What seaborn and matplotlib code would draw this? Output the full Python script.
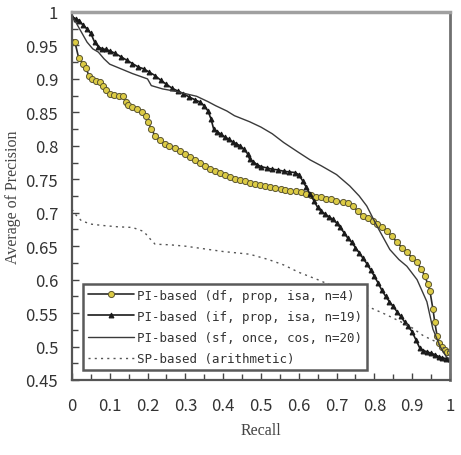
import numpy as np
import pandas as pd
import matplotlib
matplotlib.use('Agg')
import matplotlib.pyplot as plt
from matplotlib.ticker import MultipleLocator, FuncFormatter
import seaborn as sns

# PI-based (df, prop, isa, n=4)  -- circles
df_x = [0.000, 0.008, 0.018, 0.030, 0.037, 0.045, 0.052, 0.065, 0.075, 0.082,
        0.090, 0.100, 0.112, 0.125, 0.135, 0.142, 0.148, 0.160, 0.172, 0.185,
        0.195, 0.202, 0.210, 0.220, 0.232, 0.245, 0.258, 0.272, 0.285, 0.298,
        0.312, 0.325, 0.338, 0.352, 0.365, 0.378, 0.392, 0.405, 0.418, 0.432,
        0.445, 0.458, 0.472, 0.485, 0.498, 0.512, 0.525, 0.538, 0.552, 0.565,
        0.578, 0.592, 0.605, 0.618, 0.632, 0.645, 0.658, 0.672, 0.685, 0.698,
        0.717, 0.730, 0.743, 0.757, 0.770, 0.783, 0.796, 0.808, 0.820, 0.833,
        0.846, 0.860, 0.873, 0.886, 0.900, 0.913, 0.924, 0.934, 0.941, 0.947,
        0.955, 0.960, 0.966, 0.972, 0.979, 0.987, 0.993, 1.000]
df_y = [0.955, 0.955, 0.931, 0.922, 0.916, 0.905, 0.900, 0.897, 0.895, 0.889,
        0.884, 0.878, 0.876, 0.875, 0.874, 0.866, 0.861, 0.858, 0.855, 0.850,
        0.845, 0.835, 0.825, 0.815, 0.808, 0.803, 0.800, 0.797, 0.792, 0.788,
        0.784, 0.779, 0.775, 0.770, 0.766, 0.763, 0.760, 0.756, 0.753, 0.751,
        0.749, 0.747, 0.745, 0.743, 0.742, 0.740, 0.739, 0.737, 0.735, 0.734,
        0.733, 0.732, 0.731, 0.728, 0.726, 0.724, 0.723, 0.721, 0.720, 0.718,
        0.716, 0.714, 0.710, 0.702, 0.695, 0.692, 0.688, 0.683, 0.678, 0.673,
        0.665, 0.656, 0.648, 0.641, 0.633, 0.626, 0.616, 0.605, 0.594, 0.583,
        0.556, 0.536, 0.516, 0.506, 0.500, 0.495, 0.492, 0.492]

# PI-based (if, prop, isa, n=19)  -- triangles
if_x = [0.000, 0.010, 0.020, 0.030, 0.040, 0.050, 0.060, 0.070, 0.080, 0.090,
        0.100, 0.115, 0.130, 0.145, 0.160, 0.175, 0.190, 0.205, 0.220, 0.235,
        0.250, 0.265, 0.280, 0.295, 0.310, 0.325, 0.340, 0.350, 0.360, 0.368,
        0.375, 0.385, 0.395, 0.405, 0.415, 0.425, 0.435, 0.445, 0.455, 0.465,
        0.470, 0.480, 0.490, 0.500, 0.515, 0.530, 0.545, 0.560, 0.575, 0.590,
        0.600, 0.610, 0.620, 0.630, 0.640, 0.650, 0.660, 0.670, 0.680, 0.690,
        0.700, 0.710, 0.720, 0.730, 0.740, 0.750, 0.760, 0.770, 0.780, 0.790,
        0.800, 0.810, 0.820, 0.830, 0.840, 0.850, 0.860, 0.870, 0.880, 0.890,
        0.900, 0.910, 0.920, 0.930, 0.940, 0.950, 0.960, 0.970, 0.980, 0.990, 1.000]
if_y = [0.993, 0.990, 0.987, 0.980, 0.975, 0.968, 0.955, 0.948, 0.945, 0.944,
        0.942, 0.938, 0.933, 0.928, 0.923, 0.918, 0.915, 0.910, 0.905, 0.898,
        0.892, 0.886, 0.882, 0.878, 0.873, 0.869, 0.865, 0.860, 0.852, 0.840,
        0.825, 0.821, 0.817, 0.813, 0.810, 0.806, 0.803, 0.800, 0.795, 0.788,
        0.780, 0.776, 0.772, 0.769, 0.767, 0.765, 0.764, 0.762, 0.761, 0.760,
        0.757, 0.748, 0.738, 0.728, 0.718, 0.708, 0.702, 0.698, 0.694, 0.690,
        0.685, 0.678, 0.670, 0.662, 0.656, 0.648, 0.640, 0.632, 0.624, 0.615,
        0.605, 0.595, 0.584, 0.575, 0.567, 0.560, 0.552, 0.545, 0.537, 0.530,
        0.522, 0.510, 0.498, 0.494, 0.492, 0.490, 0.488, 0.485, 0.483, 0.482, 0.481]

# PI-based (sf, once, cos, n=20)  -- thin line
sf_x = [0.000, 0.010, 0.020, 0.030, 0.040, 0.055, 0.070, 0.085, 0.100, 0.130,
        0.160, 0.200, 0.210, 0.240, 0.270, 0.300, 0.330, 0.360, 0.380, 0.410,
        0.430, 0.470, 0.500, 0.530, 0.560, 0.600, 0.630, 0.660, 0.700, 0.735,
        0.760, 0.780, 0.807, 0.841, 0.865, 0.886, 0.913, 0.939, 0.955, 0.974,
        0.990, 1.000]
sf_y = [0.993, 0.985, 0.975, 0.965, 0.955, 0.945, 0.940, 0.930, 0.922, 0.915,
        0.908, 0.900, 0.890, 0.885, 0.882, 0.878, 0.874, 0.866, 0.860, 0.852,
        0.845, 0.836, 0.828, 0.818, 0.805, 0.790, 0.779, 0.770, 0.757, 0.740,
        0.725, 0.710, 0.680, 0.645, 0.630, 0.620, 0.600, 0.567, 0.526, 0.500,
        0.485, 0.481]

# SP-based (arithmetic)  -- dotted
sp_x = [0.000, 0.010, 0.025, 0.050, 0.080, 0.120, 0.160, 0.190, 0.205, 0.220,
        0.260, 0.300, 0.350, 0.400, 0.470, 0.520, 0.560, 0.600, 0.650, 0.700,
        0.750, 0.790, 0.830, 0.870, 0.900, 0.930, 0.960, 0.990, 1.000]
sp_y = [0.705, 0.697, 0.688, 0.683, 0.681, 0.679, 0.678, 0.672, 0.662, 0.653,
        0.652, 0.650, 0.646, 0.642, 0.638, 0.630, 0.622, 0.611, 0.600, 0.588,
        0.572, 0.558, 0.548, 0.537, 0.528, 0.516, 0.508, 0.495, 0.492]

labels = ['PI-based (df, prop, isa, n=4)',
          'PI-based (if, prop, isa, n=19)',
          'PI-based (sf, once, cos, n=20)',
          'SP-based (arithmetic)']

sns.set_style('white')
plt.rcParams['font.family'] = ['Noto Sans CJK JP', 'DejaVu Sans']

fig = plt.figure(figsize=(4.61, 4.56), dpi=100)
ax = fig.add_axes([0.156, 0.1645, 0.82, 0.807])

sns.lineplot(x=df_x, y=df_y, ax=ax, color='#2a2a2a', lw=1.2, marker='o',
             markersize=4.4, markerfacecolor='#dccb45', markeredgecolor='#5a5530',
             markeredgewidth=0.7, estimator=None, sort=False, label=labels[0])
sns.lineplot(x=if_x, y=if_y, ax=ax, color='#1a1a1a', lw=1.2, marker='^',
             markersize=3.5, markerfacecolor='#1a1a1a', markeredgecolor='#1a1a1a',
             estimator=None, sort=False, label=labels[1])
sns.lineplot(x=sf_x, y=sf_y, ax=ax, color='#3a3a3a', lw=1.0,
             estimator=None, sort=False, label=labels[2])
sns.lineplot(x=sp_x, y=sp_y, ax=ax, color='#555555', lw=1.0, linestyle=(0, (1.5, 3)),
             estimator=None, sort=False, label=labels[3])

ax.set_xlim(0, 1)
ax.set_ylim(0.45, 1)
ax.xaxis.set_major_locator(MultipleLocator(0.1))
ax.xaxis.set_minor_locator(MultipleLocator(0.05))
ax.yaxis.set_major_locator(MultipleLocator(0.05))
ax.yaxis.set_minor_locator(MultipleLocator(0.025))
fmt = FuncFormatter(lambda v, p: f'{round(v, 3):g}')
ax.xaxis.set_major_formatter(fmt)
ax.yaxis.set_major_formatter(fmt)
ax.tick_params(axis='both', which='both', direction='in', colors='#444444',
               labelcolor='#333333', labelsize=12)
ax.tick_params(axis='both', which='major', length=5, width=1)
ax.tick_params(axis='both', which='minor', length=4, width=1)
ax.tick_params(axis='x', which='both', pad=12, bottom=True)
ax.tick_params(axis='y', which='both', pad=10, left=True)

for side in ['left', 'bottom']:
    ax.spines[side].set_color('#555555')
    ax.spines[side].set_linewidth(1.6)
ax.spines['top'].set_color('#a0a0a0')
ax.spines['top'].set_linewidth(2.5)
ax.spines['right'].set_color('#707070')
ax.spines['right'].set_linewidth(2.0)

ax.set_xlabel('Recall', family='Liberation Serif', fontsize=11.5, color='#444444', labelpad=6)
ax.set_ylabel('Average of Precision', family='Liberation Serif', fontsize=11.5,
              color='#444444', labelpad=3)

leg = ax.legend(loc='lower left', bbox_to_anchor=(0.029, 0.027), frameon=True,
                fancybox=False, prop={'family': 'DejaVu Sans Mono', 'size': 9.0},
                handlelength=3.7, handletextpad=0.25,
                labelspacing=0.65, borderpad=0.4, borderaxespad=0)
leg.get_frame().set_edgecolor('#5a5a5a')
leg.get_frame().set_linewidth(1.8)
leg.get_frame().set_alpha(1)
for t in leg.get_texts():
    t.set_color('#333333')

fig.savefig('out.png', dpi=100)
